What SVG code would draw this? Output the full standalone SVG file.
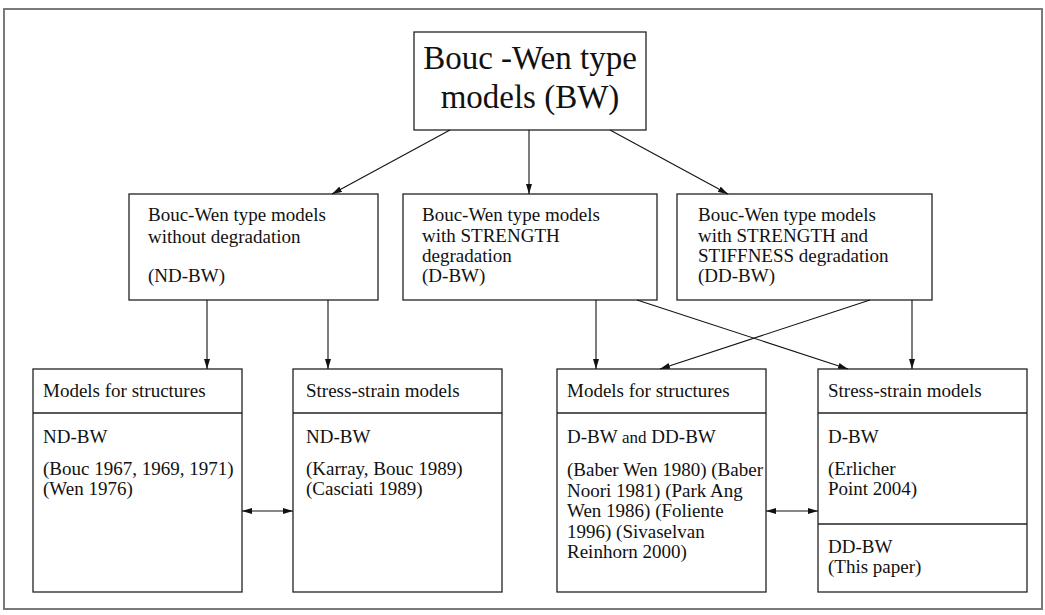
<svg xmlns="http://www.w3.org/2000/svg" width="1045" height="615" viewBox="0 0 1045 615">
  <style>
    .box { fill: #ffffff; stroke: #222; stroke-width: 1.3; }
    .frame { fill: #ffffff; stroke: #7a7a7a; stroke-width: 2; }
    .sep { stroke: #222; stroke-width: 1.3; }
    text { font-family: 'Liberation Serif', 'DejaVu Serif', serif; fill: #111; }
    .t { font-size: 19px; }
    .big { font-size: 33px; text-anchor: middle; }
    .edge { stroke: #111; stroke-width: 1.1; fill: none; }
  </style>
  <defs>
    <marker id="arr" viewBox="0 0 10 6" refX="10" refY="3" markerWidth="10" markerHeight="6" markerUnits="userSpaceOnUse" orient="auto-start-reverse">
      <path d="M0,0 L10,3 L0,6 Z" fill="#111"/>
    </marker>
  </defs>

  <!-- outer frame -->
  <rect class="frame" x="4" y="9" width="1038" height="600"/>

  <!-- root -->
  <g id="root">
    <rect class="box" x="414" y="32" width="232" height="98"/>
    <text class="big" x="530" y="69">Bouc -Wen type</text>
    <text class="big" x="530" y="108">models (BW)</text>
  </g>

  <!-- second level -->
  <g id="nd-bw">
    <rect class="box" x="129" y="194" width="249" height="106"/>
    <text class="t" x="148" y="221">Bouc-Wen type models</text>
    <text class="t" x="148" y="243">without degradation</text>
    <text class="t" x="148" y="282">(ND-BW)</text>
  </g>
  <g id="d-bw">
    <rect class="box" x="403" y="194" width="254" height="106"/>
    <text class="t" x="422" y="221">Bouc-Wen type models</text>
    <text class="t" x="422" y="241.5">with STRENGTH</text>
    <text class="t" x="422" y="262">degradation</text>
    <text class="t" x="422" y="282">(D-BW)</text>
  </g>
  <g id="dd-bw">
    <rect class="box" x="677" y="194" width="255" height="106"/>
    <text class="t" x="698" y="221">Bouc-Wen type models</text>
    <text class="t" x="698" y="241.5">with STRENGTH and</text>
    <text class="t" x="698" y="262">STIFFNESS degradation</text>
    <text class="t" x="698" y="282">(DD-BW)</text>
  </g>

  <!-- third level -->
  <g id="nd-structures">
    <rect class="box" x="33" y="369" width="209" height="223"/>
    <line class="sep" x1="33" y1="413" x2="242" y2="413"/>
    <text class="t" x="43" y="397">Models for structures</text>
    <text class="t" x="43" y="443">ND-BW</text>
    <text class="t" x="43" y="475">(Bouc 1967, 1969, 1971)</text>
    <text class="t" x="43" y="495">(Wen 1976)</text>
  </g>
  <g id="nd-stress-strain">
    <rect class="box" x="293" y="369" width="209" height="223"/>
    <line class="sep" x1="293" y1="413" x2="502" y2="413"/>
    <text class="t" x="306" y="397">Stress-strain models</text>
    <text class="t" x="306" y="443">ND-BW</text>
    <text class="t" x="306" y="475">(Karray, Bouc 1989)</text>
    <text class="t" x="306" y="495">(Casciati 1989)</text>
  </g>
  <g id="d-structures">
    <rect class="box" x="557" y="369" width="209" height="223"/>
    <line class="sep" x1="557" y1="413" x2="766" y2="413"/>
    <text class="t" x="567" y="397">Models for structures</text>
    <text class="t" x="567" y="443">D-BW <tspan font-size="17">and</tspan> DD-BW</text>
    <text class="t" x="567" y="476">(Baber Wen 1980) (Baber</text>
    <text class="t" x="567" y="496.5">Noori 1981) (Park Ang</text>
    <text class="t" x="567" y="517">Wen 1986) (Foliente</text>
    <text class="t" x="567" y="537.5">1996) (Sivaselvan</text>
    <text class="t" x="567" y="558">Reinhorn 2000)</text>
  </g>
  <g id="d-stress-strain">
    <rect class="box" x="818" y="369" width="209" height="223"/>
    <line class="sep" x1="818" y1="413" x2="1027" y2="413"/>
    <line class="sep" x1="818" y1="524" x2="1027" y2="524"/>
    <text class="t" x="828" y="397">Stress-strain models</text>
    <text class="t" x="828" y="443">D-BW</text>
    <text class="t" x="828" y="475">(Erlicher</text>
    <text class="t" x="828" y="495">Point 2004)</text>
    <text class="t" x="828" y="553">DD-BW</text>
    <text class="t" x="828" y="573">(This paper)</text>
  </g>

  <!-- connectors -->
  <g id="connectors">
    <line class="edge" x1="450" y1="130" x2="332" y2="194" marker-end="url(#arr)"/>
    <line class="edge" x1="529" y1="130" x2="529" y2="194" marker-end="url(#arr)"/>
    <line class="edge" x1="610" y1="130" x2="728" y2="194" marker-end="url(#arr)"/>

    <line class="edge" x1="207" y1="300" x2="207" y2="369" marker-end="url(#arr)"/>
    <line class="edge" x1="328" y1="300" x2="328" y2="369" marker-end="url(#arr)"/>
    <line class="edge" x1="596" y1="300" x2="596" y2="369" marker-end="url(#arr)"/>
    <line class="edge" x1="637" y1="300" x2="848" y2="369" marker-end="url(#arr)"/>
    <line class="edge" x1="870" y1="300" x2="660" y2="369" marker-end="url(#arr)"/>
    <line class="edge" x1="912" y1="300" x2="912" y2="369" marker-end="url(#arr)"/>

    <line class="edge" x1="242" y1="511" x2="293" y2="511" marker-start="url(#arr)" marker-end="url(#arr)"/>
    <line class="edge" x1="766" y1="511" x2="818" y2="511" marker-start="url(#arr)" marker-end="url(#arr)"/>
  </g>
</svg>
